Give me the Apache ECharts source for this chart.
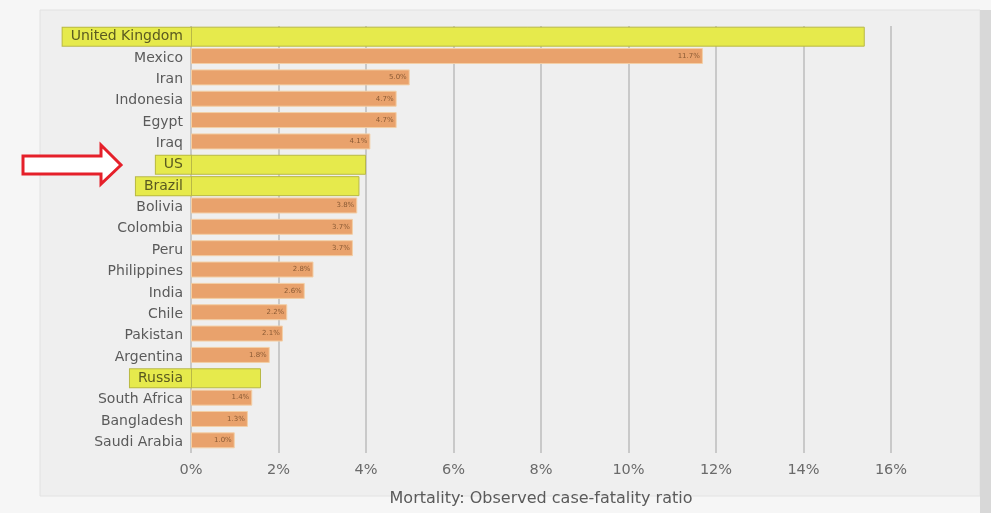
<!DOCTYPE html>
<html><head><meta charset="utf-8">
<script src="https://cdn.jsdelivr.net/npm/echarts@6/dist/echarts.min.js"></script>
<style>html,body{margin:0;padding:0;background:#f6f6f6;}#c{width:991px;height:513px;}</style>
</head><body><div id="c"></div>
<script>
const categories = ['United Kingdom','Mexico','Iran','Indonesia','Egypt','Iraq','US','Brazil','Bolivia','Colombia','Peru','Philippines','India','Chile','Pakistan','Argentina','Russia','South Africa','Bangladesh','Saudi Arabia'];
const highlighted = ['United Kingdom','US','Brazil','Russia'];
const cfrValues = [15.4,11.7,5.0,4.7,4.7,4.1,4.0,3.85,3.8,3.7,3.7,2.8,2.6,2.2,2.1,1.8,1.6,1.4,1.3,1.0];
const xTicks = [0,2,4,6,8,10,12,14,16];
const axisTitle = 'Mortality: Observed case-fatality ratio';

const FONT = 'DejaVu Sans';
const orangeData = categories.map((c,i)=> highlighted.includes(c) ? null : cfrValues[i]);
const yellowData = categories.map((c,i)=> highlighted.includes(c) ? cfrValues[i] : null);

const chart = echarts.init(document.getElementById('c'));
chart.setOption({
  animation:false,
  backgroundColor:'transparent',
  graphic:[
    {type:'rect',z:-10,shape:{x:40,y:10,width:940,height:486},style:{fill:'#efefef',stroke:'#e2e2e2',lineWidth:1}},
    {type:'rect',z:-10,shape:{x:980,y:10,width:11,height:503},style:{fill:'#d8d8d8'}},
    {type:'polygon',z:10,shape:{points:[[23,156],[101,156],[101,145],[121,165],[101,184],[101,174],[23,174]]},
     style:{fill:'#ffffff',stroke:'#e5202a',lineWidth:3}}
  ],
  grid:{left:191,right:100,top:26,bottom:60,containLabel:false},
  xAxis:{
    type:'value',min:0,max:16,interval:2,
    axisLine:{show:false},axisTick:{show:false},
    splitLine:{show:true,lineStyle:{color:'#bdbdbd',width:1.5}},
    axisLabel:{color:'#6a6a6a',fontFamily:FONT,fontSize:14.5,margin:10,
      formatter:v=> xTicks.includes(v) ? v+'%' : ''},
    name:axisTitle,nameLocation:'middle',nameGap:38,
    nameTextStyle:{color:'#5a5a5a',fontFamily:FONT,fontSize:16}
  },
  yAxis:{
    type:'category',data:categories,inverse:true,
    axisLine:{show:false},axisTick:{show:false},splitLine:{show:false},
    axisLabel:{margin:0,interval:0,
      formatter:v=> highlighted.includes(v) ? '{h|'+v+'}' : '{n|'+v+'}',
      rich:{
        n:{color:'#5a5a5a',fontFamily:FONT,fontSize:14,padding:[0,8,0,0]},
        h:{color:'#5a5a20',fontFamily:FONT,fontSize:14,backgroundColor:'#e6ea4c',
           borderColor:'#b9b945',borderWidth:1,padding:[2,8,2,8]}
      }}
  },
  series:[
    {type:'bar',data:orangeData,barWidth:16,barGap:'-100%',
     itemStyle:{color:'#e9a26c',borderColor:'#f3cfa6',borderWidth:1},
     label:{show:true,position:'insideRight',distance:3,fontSize:7,fontFamily:FONT,color:'#8a5a34',
       formatter:p=> p.value==null ? '' : p.value.toFixed(1)+'%'}},
    {type:'bar',data:yellowData,barWidth:20,
     itemStyle:{color:'#e6ea4c',borderColor:'#b9b945',borderWidth:1}}
  ]
});
</script></body></html>
